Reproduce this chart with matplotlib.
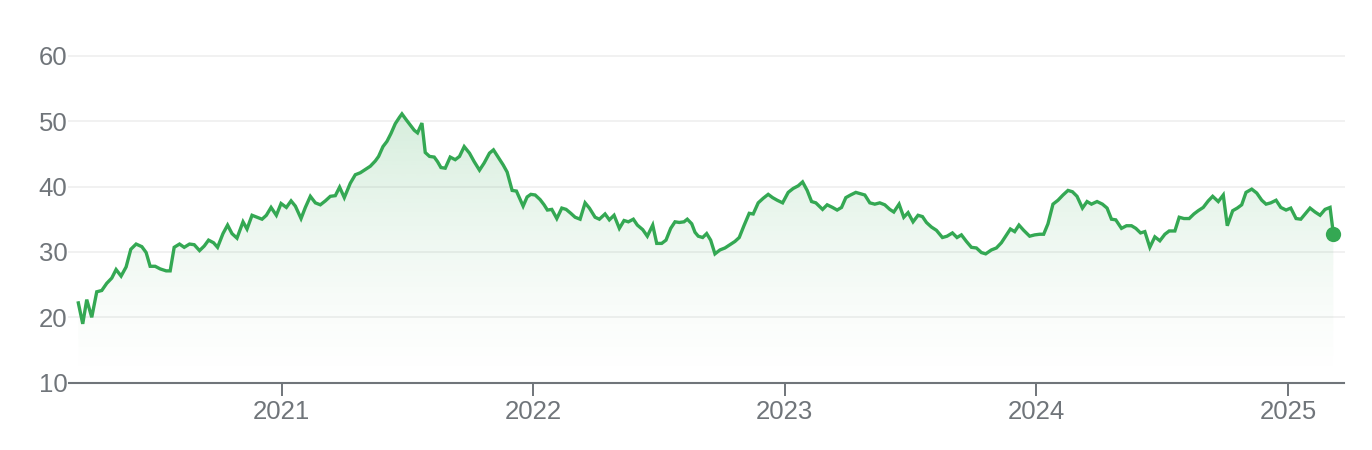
import datetime as dt
import numpy as np
import matplotlib
matplotlib.use("Agg")
import matplotlib.pyplot as plt
import matplotlib.dates as mdates
from matplotlib.patches import PathPatch
from matplotlib.path import Path

# ---- data: time as decimal year, price values ----
t_years = [
    2020.1924, 2020.2099, 2020.2258, 2020.2456, 2020.2655, 2020.2854, 2020.3052, 2020.3251,
    2020.3422, 2020.3621, 2020.3820, 2020.4006, 2020.4217, 2020.4444, 2020.4615, 2020.4773,
    2020.4972, 2020.5171, 2020.5409, 2020.5568, 2020.5727, 2020.5938, 2020.6125, 2020.6335,
    2020.6522, 2020.6733, 2020.6920, 2020.7091, 2020.7289, 2020.7448, 2020.7663, 2020.7846,
    2020.8021, 2020.8219, 2020.8458, 2020.8617, 2020.8816, 2020.9014, 2020.9213, 2020.9384,
    2020.9571, 2020.9781, 2020.9968, 2021.0179, 2021.0366, 2021.0537, 2021.0763, 2021.0934,
    2021.1133, 2021.1332, 2021.1530, 2021.1729, 2021.1928, 2021.2126, 2021.2297, 2021.2484,
    2021.2722, 2021.2921, 2021.3120, 2021.3319, 2021.3518, 2021.3716, 2021.3848, 2021.4022,
    2021.4181, 2021.4340, 2021.4511, 2021.4682, 2021.4777, 2021.4948, 2021.5108, 2021.5266,
    2021.5397, 2021.5572, 2021.5704, 2021.5875, 2021.6061, 2021.6193, 2021.6328, 2021.6499,
    2021.6697, 2021.6896, 2021.7067, 2021.7254, 2021.7464, 2021.7651, 2021.7862, 2021.8049,
    2021.8259, 2021.8418, 2021.8804, 2021.8963, 2021.9161, 2021.9332, 2021.9598, 2021.9757,
    2021.9905, 2022.0077, 2022.0273, 2022.0432, 2022.0564, 2022.0739, 2022.0938, 2022.1137,
    2022.1308, 2022.1495, 2022.1666, 2022.1865, 2022.2063, 2022.2234, 2022.2461, 2022.2631,
    2022.2858, 2022.3029, 2022.3216, 2022.3426, 2022.3613, 2022.3784, 2022.3983, 2022.4142,
    2022.4357, 2022.4539, 2022.4754, 2022.4913, 2022.5111, 2022.5282, 2022.5469, 2022.5640,
    2022.5811, 2022.5998, 2022.6129, 2022.6306, 2022.6436, 2022.6566, 2022.6741, 2022.6900,
    2022.7059, 2022.7230, 2022.7429, 2022.7628, 2022.7826, 2022.8025, 2022.8196, 2022.8383,
    2022.8593, 2022.8752, 2022.8951, 2022.9150, 2022.9348, 2022.9523, 2022.9706, 2022.9921,
    2023.0144, 2023.0342, 2023.0541, 2023.0716, 2023.0899, 2023.1074, 2023.1244, 2023.1511,
    2023.1694, 2023.1908, 2023.2091, 2023.2266, 2023.2437, 2023.2624, 2023.2834, 2023.3021,
    2023.3192, 2023.3391, 2023.3589, 2023.3788, 2023.3987, 2023.4186, 2023.4345, 2023.4555,
    2023.4742, 2023.4913, 2023.5111, 2023.5310, 2023.5485, 2023.5644, 2023.5843, 2023.6042,
    2023.6280, 2023.6463, 2023.6678, 2023.6860, 2023.7035, 2023.7234, 2023.7433, 2023.7632,
    2023.7830, 2023.8001, 2023.8228, 2023.8427, 2023.8625, 2023.8796, 2023.8983, 2023.9154,
    2023.9325, 2023.9512, 2023.9750, 2023.9949, 2024.0148, 2024.0307, 2024.0478, 2024.0676,
    2024.0875, 2024.1074, 2024.1272, 2024.1447, 2024.1630, 2024.1845, 2024.2028, 2024.2203,
    2024.2425, 2024.2639, 2024.2822, 2024.2997, 2024.3168, 2024.3394, 2024.3593, 2024.3792,
    2024.3963, 2024.4150, 2024.4321, 2024.4519, 2024.4718, 2024.4917, 2024.5116, 2024.5287,
    2024.5513, 2024.5684, 2024.5871, 2024.6081, 2024.6268, 2024.6439, 2024.6638, 2024.6837,
    2024.7012, 2024.7234, 2024.7433, 2024.7592, 2024.7807, 2024.7989, 2024.8164, 2024.8335,
    2024.8562, 2024.8761, 2024.8960, 2024.9131, 2024.9317, 2024.9528, 2024.9715, 2024.9924,
    2025.0112, 2025.0322, 2025.0509, 2025.0680, 2025.0878, 2025.1077, 2025.1276, 2025.1475,
    2025.1674, 2025.1805,
]
prices = [
    22.2, 19.0, 22.7, 20.0, 23.9, 24.1, 25.2, 26.0,
    27.3, 26.3, 27.7, 30.4, 31.2, 30.8, 29.9, 27.8,
    27.8, 27.4, 27.1, 27.1, 30.7, 31.2, 30.7, 31.2,
    31.1, 30.2, 30.9, 31.8, 31.4, 30.7, 32.8, 34.1,
    32.8, 32.1, 34.6, 33.5, 35.6, 35.3, 35.0, 35.6,
    36.8, 35.6, 37.4, 36.8, 37.8, 37.0, 35.1, 36.8,
    38.5, 37.5, 37.2, 37.8, 38.5, 38.6, 39.9, 38.3,
    40.5, 41.8, 42.1, 42.6, 43.1, 43.9, 44.6, 46.1,
    46.9, 48.1, 49.6, 50.6, 51.1, 50.2, 49.4, 48.6,
    48.2, 49.7, 45.2, 44.6, 44.5, 43.8, 42.9, 42.8,
    44.5, 44.1, 44.6, 46.1, 45.1, 43.8, 42.5, 43.6,
    45.1, 45.6, 43.3, 42.2, 39.4, 39.3, 37.0, 38.4,
    38.8, 38.7, 38.0, 37.2, 36.4, 36.5, 35.1, 36.7,
    36.5, 35.9, 35.3, 35.0, 37.5, 36.7, 35.3, 35.0,
    35.8, 34.9, 35.6, 33.6, 34.8, 34.6, 35.0, 34.1,
    33.4, 32.4, 34.1, 31.3, 31.3, 31.8, 33.6, 34.6,
    34.5, 34.6, 35.0, 34.3, 33.0, 32.4, 32.2, 32.8,
    31.8, 29.7, 30.3, 30.6, 31.1, 31.6, 32.2, 34.0,
    35.9, 35.8, 37.5, 38.2, 38.8, 38.3, 37.9, 37.5,
    39.1, 39.7, 40.1, 40.7, 39.4, 37.7, 37.5, 36.5,
    37.2, 36.8, 36.4, 36.8, 38.3, 38.7, 39.1, 38.9,
    38.7, 37.5, 37.3, 37.5, 37.2, 36.5, 36.1, 37.3,
    35.3, 36.0, 34.6, 35.6, 35.4, 34.5, 33.8, 33.3,
    32.2, 32.4, 32.9, 32.2, 32.6, 31.6, 30.7, 30.6,
    29.9, 29.7, 30.3, 30.6, 31.4, 32.4, 33.5, 33.1,
    34.1, 33.3, 32.4, 32.6, 32.7, 32.7, 34.3, 37.3,
    37.9, 38.7, 39.4, 39.2, 38.5, 36.7, 37.7, 37.3,
    37.7, 37.3, 36.7, 35.0, 34.9, 33.6, 34.0, 34.0,
    33.6, 32.9, 33.1, 30.7, 32.3, 31.7, 32.7, 33.2,
    33.2, 35.3, 35.1, 35.1, 35.8, 36.3, 36.8, 37.8,
    38.5, 37.7, 38.7, 34.0, 36.3, 36.7, 37.2, 39.1,
    39.6, 39.0, 37.9, 37.3, 37.5, 37.9, 36.8, 36.4,
    36.7, 35.1, 35.0, 35.8, 36.7, 36.1, 35.6, 36.5,
    36.8, 32.8,
]
y_ticks = [10, 20, 30, 40, 50, 60]
x_tick_years = [2021, 2022, 2023, 2024, 2025]

LINE = "#34a853"
GREY = "#70757a"
GRID = "#f1f1f1"


def to_date(t):
    y = int(t)
    start = dt.datetime(y, 1, 1)
    end = dt.datetime(y + 1, 1, 1)
    return start + (end - start) * (t - y)


dates = [to_date(t) for t in t_years]
xnum = mdates.date2num(dates)
vals = np.array(prices)

plt.rcParams["font.family"] = ["Liberation Sans", "DejaVu Sans"]

fig = plt.figure(figsize=(13.72, 4.5), dpi=100)
ax = fig.add_axes([69 / 1372, 1 - 382.7 / 450, (1344 - 69) / 1372, (382.7 - 55.7) / 450])

ymin, ymax = y_ticks[0], y_ticks[-1]
ax.set_ylim(ymin, ymax)
ax.set_xlim(mdates.date2num(to_date(2020.1554)), mdates.date2num(to_date(2025.2229)))

# gradient fill under the line
top = vals.max()
verts = [(xnum[0], ymin)] + list(zip(xnum, vals)) + [(xnum[-1], ymin)]
clip = PathPatch(Path(verts), facecolor="none", edgecolor="none", transform=ax.transData)
ax.add_patch(clip)
grad = np.linspace(0, 1, 256).reshape(-1, 1)
rgba = np.zeros((256, 1, 4))
rgba[..., 0] = 0x34 / 255
rgba[..., 1] = 0xa8 / 255
rgba[..., 2] = 0x53 / 255
rgba[..., 3] = 0.2 * grad[::-1] ** 1.4
im = ax.imshow(rgba, extent=[xnum[0], xnum[-1], ymin, top], origin="upper",
               aspect="auto", zorder=1, interpolation="bilinear")
im.set_clip_path(clip)

ax.plot(xnum, vals, color=LINE, lw=2.4, zorder=3, solid_joinstyle="miter")
ax.plot(xnum[-1:], vals[-1:], "o", color=LINE, ms=11, zorder=4, mec="none")

# grid
ax.set_yticks(y_ticks)
for v in y_ticks[1:]:
    ax.axhline(v, color=GRID, lw=1.4, zorder=0, clip_on=False)

for s in ["top", "right", "left"]:
    ax.spines[s].set_visible(False)
ax.spines["bottom"].set_color(GREY)
ax.spines["bottom"].set_linewidth(1.5)

ax.set_xticks([mdates.date2num(dt.datetime(y, 1, 1)) for y in x_tick_years])
ax.set_xticklabels([str(y) for y in x_tick_years])
ax.tick_params(axis="x", length=9, width=1.4, color=GREY, labelcolor=GREY,
               labelsize=18.5, pad=3.5)
ax.tick_params(axis="y", length=0, labelcolor=GREY, labelsize=18.5, pad=1)
ax.set_facecolor("white")

fig.savefig("out.png", dpi=100, facecolor="white")
